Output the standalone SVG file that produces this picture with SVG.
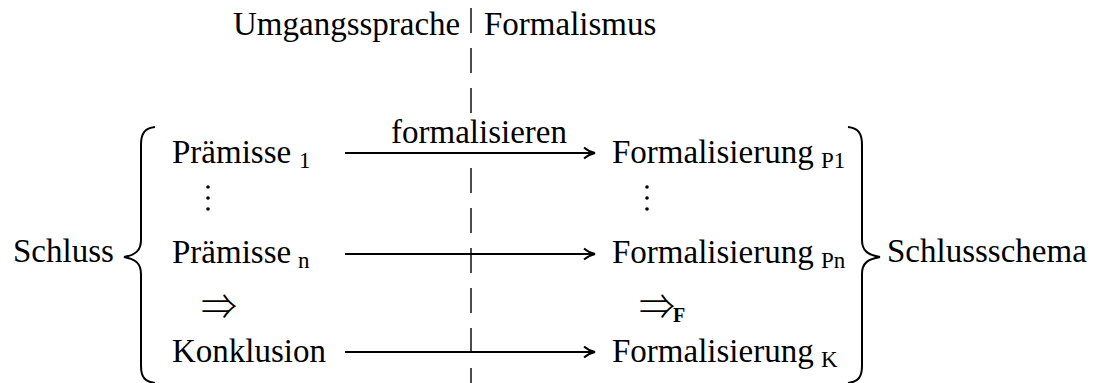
<svg xmlns="http://www.w3.org/2000/svg" width="1102" height="383" viewBox="0 0 1102 383">
<style>
  .t { font-family: "Liberation Serif", "Times New Roman", serif; font-size: 33px; fill: #000; }
  .sub { font-family: "Liberation Serif", "Times New Roman", serif; font-size: 23px; fill: #000; }
  .imp { font-family: "Noto Sans CJK JP", "DejaVu Sans", sans-serif; font-size: 36px; font-weight: 300; fill: #000; }
  .bf { font-family: "Liberation Serif", "Times New Roman", serif; font-size: 20px; font-weight: bold; fill: #000; }
  .arrow { stroke: #000; stroke-width: 1.9; fill: none; marker-end: url(#arr); }
  .brace { stroke: #000; stroke-width: 2; fill: none; }
  .dash { stroke: #000; stroke-width: 1.4; stroke-dasharray: 25 15; fill: none; }
  .dot { fill: #000; }
</style>
<defs>
  <marker id="arr" viewBox="-13 -7 15 14" refX="0" refY="0" markerWidth="15" markerHeight="14" markerUnits="userSpaceOnUse" orient="auto">
    <path d="M-11,-5.5 C-7,-2 -3,-0.6 0,0 C-3,0.6 -7,2 -11,5.5" fill="none" stroke="#000" stroke-width="1.9"/>
  </marker>
</defs>

<g id="divider">
  <line class="dash" x1="471" y1="8" x2="471" y2="113"/>
  <line class="dash" x1="471" y1="168" x2="471" y2="383"/>
</g>

<g id="header-left"><text class="t" x="233" y="35">Umgangssprache</text></g>
<g id="header-right"><text class="t" x="484" y="35">Formalismus</text></g>

<g id="schluss">
  <text class="t" x="13" y="262">Schluss</text>
  <path class="brace" d="M155,127 C145,128 141,133 141,145 L141,240 C141,251 135,255 124,257 C135,259 141,263 141,274 L141,366 C141,377 145,382 155,383"/>
</g>

<g id="praemisse1"><text class="t" x="172" y="163">Prämisse<tspan class="sub" x="299" y="168">1</tspan></text></g>
<g id="vdots-left">
  <circle class="dot" cx="208" cy="187" r="1.8"/>
  <circle class="dot" cx="208" cy="198" r="1.8"/>
  <circle class="dot" cx="208" cy="209" r="1.8"/>
</g>
<g id="praemissen"><text class="t" x="172" y="263">Prämisse<tspan class="sub" x="298" y="268">n</tspan></text></g>
<g id="impl-left"><text class="imp" x="201" y="320">⇒</text></g>
<g id="konklusion"><text class="t" x="172" y="362">Konklusion</text></g>

<g id="form-p1"><text class="t" x="612" y="163">Formalisierung<tspan class="sub" x="821" y="168">P1</tspan></text></g>
<g id="vdots-right">
  <circle class="dot" cx="647" cy="187" r="1.8"/>
  <circle class="dot" cx="647" cy="198" r="1.8"/>
  <circle class="dot" cx="647" cy="209" r="1.8"/>
</g>
<g id="form-pn"><text class="t" x="612" y="263">Formalisierung<tspan class="sub" x="821" y="268">Pn</tspan></text></g>
<g id="impl-right"><text class="imp" x="639" y="320">⇒</text><text class="bf" x="673" y="322">F</text></g>
<g id="form-k"><text class="t" x="612" y="362">Formalisierung<tspan class="sub" x="821" y="367">K</tspan></text></g>

<g id="schlussschema">
  <path class="brace" d="M848,127 C858,128 862,133 862,145 L862,240 C862,251 868,255 880,257 C868,259 862,263 862,274 L862,366 C862,377 858,382 848,383"/>
  <text class="t" x="887" y="262">Schlussschema</text>
</g>

<g id="connectors">
  <line class="arrow" x1="345" y1="153" x2="595" y2="153"/>
  <text class="t" x="391" y="143">formalisieren</text>
  <line class="arrow" x1="345" y1="254" x2="595" y2="254"/>
  <line class="arrow" x1="345" y1="352" x2="595" y2="352"/>
</g>
</svg>
